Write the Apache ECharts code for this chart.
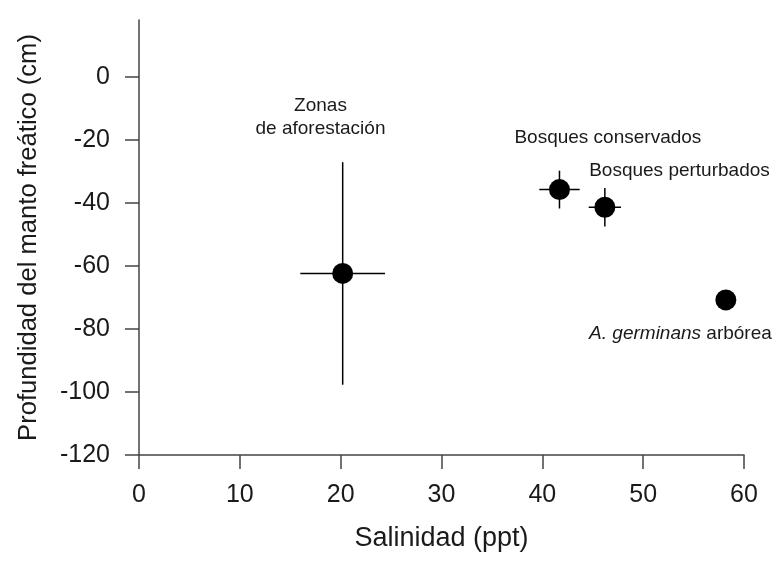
<!DOCTYPE html>
<html><head><meta charset="utf-8">
<script src="https://cdn.jsdelivr.net/npm/echarts@6/dist/echarts.min.js"></script>
<style>html,body{margin:0;padding:0;background:#fff}#c{width:781px;height:564px}</style>
</head><body><div id="c"></div>
<script>
const sites = ['Zonas de aforestación', 'Bosques conservados', 'Bosques perturbados', 'A. germinans arbórea'];
const salinity = [20.2, 41.7, 46.2, 58.2];
const depth = [-62.4, -35.8, -41.4, -70.8];
const salinityErr = [4.2, 2.0, 1.6, 0.6];
const depthErr = [35.3, 6.0, 6.1, 2.0];
const labelText = ['Zonas\nde aforestación', 'Bosques conservados', 'Bosques perturbados', '{i|A. germinans} arbórea'];
const labelX = [18.0, 46.5, 53.6, 53.7];
const labelY = [-12.8, -19.3, -29.8, -81.4];
const xTicks = [0, 10, 20, 30, 40, 50, 60];
const yTicks = [-120, -100, -80, -60, -40, -20, 0];

const FONT = '"Liberation Sans", Arial, sans-serif';
const AXIS_COLOR = '#444';
const TEXT_COLOR = '#1a1a1a';

const chart = echarts.init(document.getElementById('c'), null, {renderer: 'canvas'});

const errData = salinity.map((x, i) => [x, depth[i], salinityErr[i], depthErr[i]]);
const ptData = salinity.map((x, i) => ({name: sites[i], value: [x, depth[i]]}));
const annData = labelX.map((x, i) => [x, labelY[i]]);

chart.setOption({
  animation: false,
  backgroundColor: '#fff',
  grid: {left: 139, right: 37, top: 20, bottom: 109, containLabel: false},
  xAxis: {
    type: 'value', min: 0, max: 60, interval: 10,
    name: 'Salinidad (ppt)', nameLocation: 'middle', nameGap: 70,
    nameTextStyle: {fontSize: 27, fontFamily: FONT, color: TEXT_COLOR},
    axisLine: {show: true, onZero: false, lineStyle: {color: AXIS_COLOR, width: 1.5}},
    axisTick: {show: true, inside: false, length: 14, lineStyle: {color: AXIS_COLOR, width: 1.5}, customValues: xTicks},
    axisLabel: {fontSize: 25, fontFamily: FONT, color: TEXT_COLOR, margin: 28, customValues: xTicks},
    splitLine: {show: false}
  },
  yAxis: {
    type: 'value', min: -120, max: 18,
    name: 'Profundidad del manto freático (cm)', nameLocation: 'middle', nameGap: 97, nameRotate: 90,
    nameTextStyle: {fontSize: 25.6, fontFamily: FONT, color: TEXT_COLOR},
    axisLine: {show: true, onZero: false, lineStyle: {color: AXIS_COLOR, width: 1.5}},
    axisTick: {show: true, inside: false, length: 14, lineStyle: {color: AXIS_COLOR, width: 1.5}, customValues: yTicks},
    axisLabel: {fontSize: 25, fontFamily: FONT, color: TEXT_COLOR, margin: 29, customValues: yTicks},
    splitLine: {show: false}
  },
  series: [
    {
      type: 'custom', z: 2, clip: false,
      encode: {x: 0, y: 1},
      data: errData,
      renderItem(params, api) {
        const x = api.value(0), y = api.value(1), ex = api.value(2), ey = api.value(3);
        const l = api.coord([x - ex, y]), r = api.coord([x + ex, y]);
        const t = api.coord([x, y + ey]), b = api.coord([x, y - ey]);
        const st = {stroke: '#000', lineWidth: 1.5};
        return {type: 'group', children: [
          {type: 'line', shape: {x1: l[0], y1: l[1], x2: r[0], y2: r[1]}, style: st},
          {type: 'line', shape: {x1: t[0], y1: t[1], x2: b[0], y2: b[1]}, style: st}
        ]};
      }
    },
    {
      type: 'scatter', z: 3, symbol: 'circle', symbolSize: 21,
      itemStyle: {color: '#000', opacity: 1},
      emphasis: {disabled: true},
      data: ptData
    },
    {
      type: 'custom', z: 4, clip: false,
      encode: {x: 0, y: 1},
      data: annData,
      renderItem(params, api) {
        const p = api.coord([api.value(0), api.value(1)]);
        return {
          type: 'text', x: p[0], y: p[1],
          style: {
            text: labelText[params.dataIndex],
            fill: TEXT_COLOR, fontSize: 19, fontFamily: FONT, lineHeight: 23,
            align: 'center', verticalAlign: 'middle',
            rich: {i: {fontStyle: 'italic', fontSize: 19, fontFamily: FONT, fill: TEXT_COLOR}}
          }
        };
      }
    }
  ]
});
</script>
</body></html>
